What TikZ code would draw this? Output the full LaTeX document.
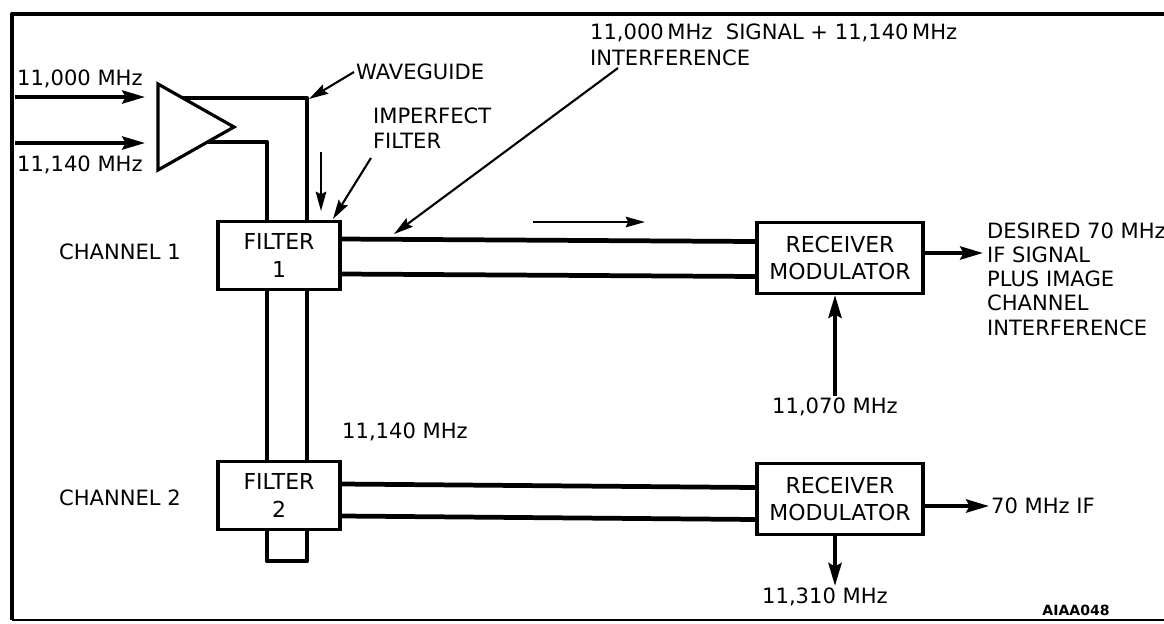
\documentclass[tikz,border=0pt]{standalone}
\usepackage{fontspec}
\setmainfont{DejaVu Sans}
\usetikzlibrary{arrows.meta,positioning,calc}

\begin{document}
\begin{tikzpicture}[x=0.02cm, y=-0.02cm,
  filt/.style={draw, line width=1.8pt, minimum width=2.44cm, minimum height=1.36cm,
    align=center, font=\fontsize{12.5}{15.5}\selectfont},
  rmod/.style={draw, line width=1.8pt, minimum width=3.32cm, minimum height=1.42cm,
    align=center, font=\fontsize{12.5}{15.5}\selectfont},
  lbl/.style={inner sep=1pt, font=\fontsize{12}{14}\selectfont},
  guide/.style={line width=2.7pt, line join=round},
  arr/.style={-{Stealth[length=13pt,width=7.5pt,inset=2pt]}, line width=2.2pt},
  note/.style={-{Stealth[length=11pt,width=6pt,inset=1.5pt]}, line width=1.2pt}
]
  \useasboundingbox (0,0) rectangle (1164,623);
  % frame
  \draw[guide] (1164,14) -- (12,14) -- (12,620);
  \draw[line width=1pt] (12,620) -- (1164,620);

  % amplifier
  \coordinate (ampa) at (158,84);
  \coordinate (ampb) at (158,170);
  \coordinate (ampc) at (234,127);
  \draw[line width=1.8pt, line join=miter] (ampa) -- (ampb) -- (ampc) -- cycle;

  \node[lbl, anchor=west] (in1) at (15,79)  {11,000 MHz};
  \node[lbl, anchor=west] (in2) at (15,165) {11,140 MHz};
  \coordinate (a1) at (145,97);
  \coordinate (a2) at (145,143);
  \draw[arr] (a1 -| in1.west) -- (a1);
  \draw[arr] (a2 -| in2.west) -- (a2);

  % filters and waveguide
  \node[filt] (f1) at (279,255.5) {FILTER\\1};
  \node[filt] (f2) at (279,495.5) {FILTER\\2};
  \node[lbl] (ch1) at (120,252) {CHANNEL 1};
  \node[lbl] (ch2) at (120,498) {CHANNEL 2};

  \coordinate (wgo) at (183,98);
  \coordinate (wgi) at (208,142);
  \draw[guide] (wgo) -| ([xshift=0.56cm]f1.north);
  \draw[guide] (wgi) -| ([xshift=-0.24cm]f1.north);
  \draw[guide] ([xshift=-0.24cm]f1.south) -- ([xshift=-0.24cm]f2.north);
  \draw[guide] ([xshift=0.56cm]f1.south) -- ([xshift=0.56cm]f2.north);
  \draw[guide] ([xshift=-0.24cm]f2.south) -- ++(0,30) -| ([xshift=0.56cm]f2.south);

  % receivers
  \node[rmod] (rm1) at (840,258) {RECEIVER\\MODULATOR};
  \node[rmod] (rm2) at (840,499) {RECEIVER\\MODULATOR};

  \draw[guide] ([yshift=0.33cm]f1.east) -- ([yshift=0.33cm]rm1.west);
  \draw[guide] ([yshift=-0.37cm]f1.east) -- ([yshift=-0.37cm]rm1.west);
  \draw[guide] ([yshift=0.23cm]f2.east) -- ([yshift=0.23cm]rm2.west);
  \draw[guide] ([yshift=-0.41cm]f2.east) -- ([yshift=-0.41cm]rm2.west);

  \node[lbl, anchor=north west, align=left, font=\fontsize{12}{13.7}\selectfont] (des) at (985,221)
    {DESIRED 70 MHz\\IF SIGNAL\\PLUS IMAGE\\CHANNEL\\INTERFERENCE};
  \coordinate (desin) at (983,253);
  \draw[arr] (rm1.east |- desin) -- (desin);

  \node[lbl, anchor=west] (if2) at (989,506) {70 MHz IF};
  \draw[arr] (rm2.east |- if2.west) -- (if2.west);

  \node[lbl] (lo1) at (835,407) {11,070 MHz};
  \draw[arr] (lo1.north) -- (lo1.north |- rm1.south);

  \node[lbl] (lo3) at (825,597) {11,310 MHz};
  \coordinate (o3) at ([xshift=-0.1cm]rm2.south);
  \draw[arr] (o3) -- (o3 |- lo3.north);

  \node[lbl] (lo2) at (405,432) {11,140 MHz};

  % notes
  \node[lbl, anchor=west] (wg) at (354,72) {WAVEGUIDE};
  \coordinate (wgc) at (309,99);
  \draw[note] (wg.west) -- (wgc);

  \node[lbl, anchor=west, align=left, font=\fontsize{12}{14.2}\selectfont] (imp) at (371,128)
    {IMPERFECT\\FILTER};
  \coordinate (impt) at (333,219);
  \draw[note] ([yshift=-0.15cm]imp.south west) -- (impt);

  \coordinate (dn1) at (321,152);
  \coordinate (dn2) at (321,211);
  \draw[note] (dn1) -- (dn2);

  \node[lbl, anchor=west, align=left, font=\fontsize{12}{14.7}\selectfont] (intf) at (588,45)
    {11,000\,MHz\ \ SIGNAL + 11,140\,MHz\\INTERFERENCE};
  \coordinate (sigp) at (394,234);
  \draw[note] ([xshift=0.6cm]intf.south west) -- (sigp);

  \coordinate (fw1) at (533,222);
  \coordinate (fw2) at (645,222);
  \draw[note] (fw1) -- (fw2);

  \node[lbl, font=\fontsize{8}{9}\selectfont\bfseries] (code) at (1076,610) {AIAA048};
\end{tikzpicture}
\end{document}
